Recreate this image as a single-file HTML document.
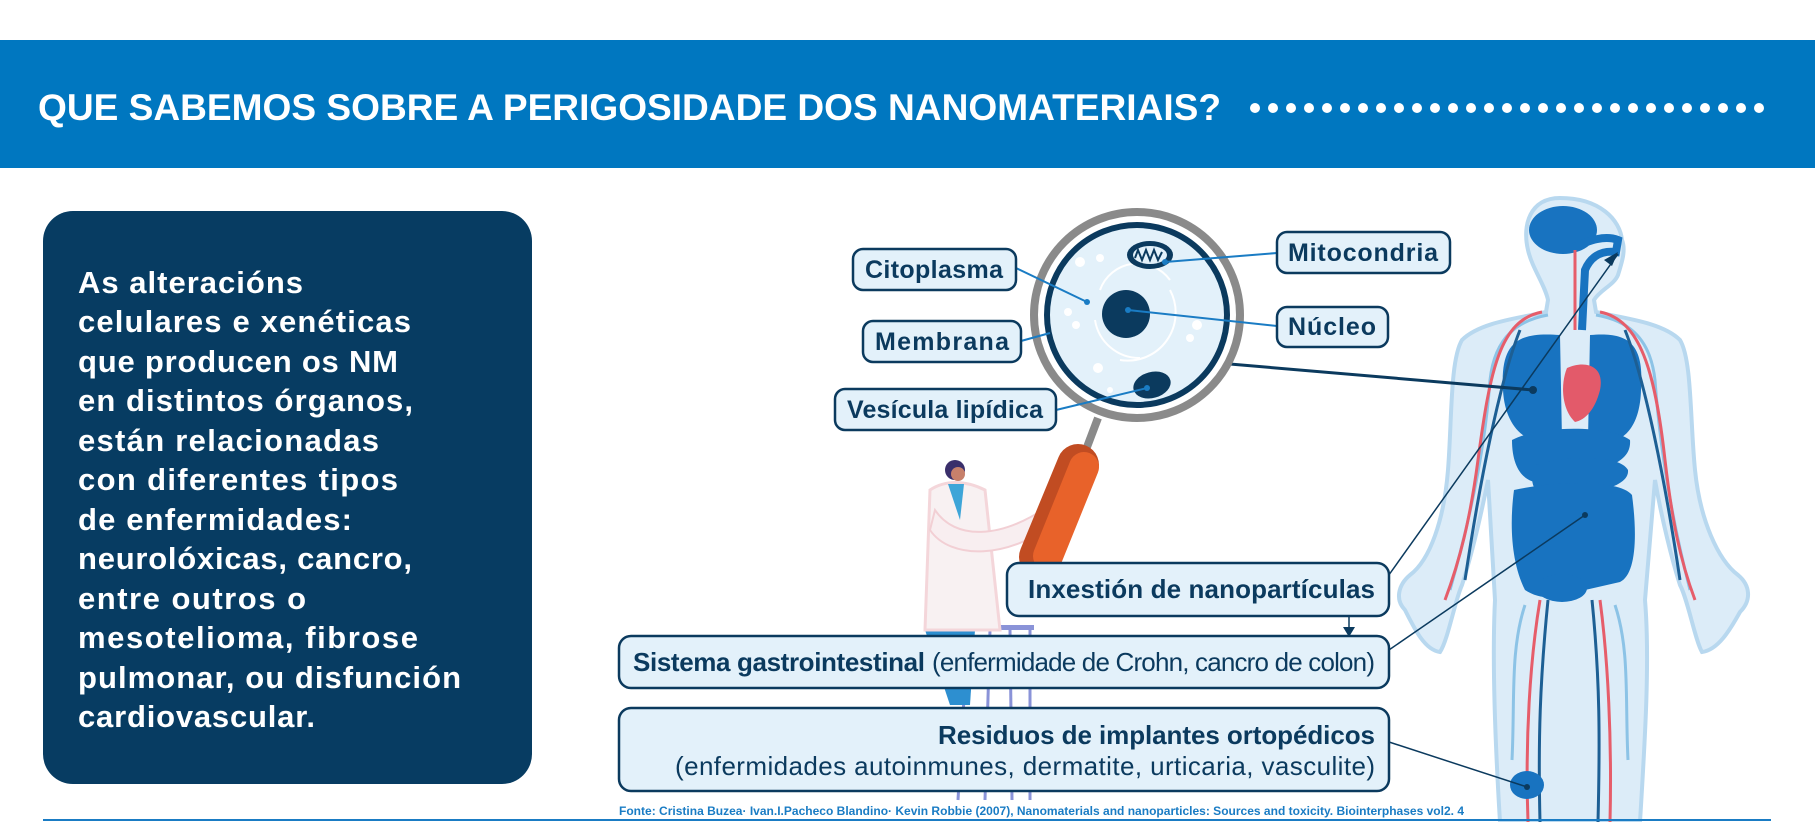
<!DOCTYPE html>
<html><head><meta charset="utf-8"><style>
html,body{margin:0;padding:0;background:#fff;}
svg{display:block;font-family:"Liberation Sans",sans-serif;}
</style></head><body>
<svg width="1815" height="822" viewBox="0 0 1815 822" xmlns="http://www.w3.org/2000/svg">
<rect x="0" y="40" width="1815" height="128" fill="#0077c0"/>
<text x="38" y="120" font-size="37" font-weight="bold" fill="#fff" textLength="1183" lengthAdjust="spacingAndGlyphs">QUE SABEMOS SOBRE A PERIGOSIDADE DOS NANOMATERIAIS?</text>
<g fill="#fff">
<circle cx="1255" cy="108" r="5"/><circle cx="1273" cy="108" r="5"/><circle cx="1291" cy="108" r="5"/><circle cx="1309" cy="108" r="5"/><circle cx="1327" cy="108" r="5"/><circle cx="1345" cy="108" r="5"/><circle cx="1363" cy="108" r="5"/><circle cx="1381" cy="108" r="5"/><circle cx="1399" cy="108" r="5"/><circle cx="1417" cy="108" r="5"/><circle cx="1435" cy="108" r="5"/><circle cx="1453" cy="108" r="5"/><circle cx="1471" cy="108" r="5"/><circle cx="1489" cy="108" r="5"/><circle cx="1507" cy="108" r="5"/><circle cx="1525" cy="108" r="5"/><circle cx="1543" cy="108" r="5"/><circle cx="1561" cy="108" r="5"/><circle cx="1579" cy="108" r="5"/><circle cx="1597" cy="108" r="5"/><circle cx="1615" cy="108" r="5"/><circle cx="1633" cy="108" r="5"/><circle cx="1651" cy="108" r="5"/><circle cx="1669" cy="108" r="5"/><circle cx="1687" cy="108" r="5"/><circle cx="1705" cy="108" r="5"/><circle cx="1723" cy="108" r="5"/><circle cx="1741" cy="108" r="5"/><circle cx="1759" cy="108" r="5"/>
</g>

<rect x="43" y="211" width="489" height="573" rx="30" fill="#073c62"/>
<g fill="#fff" font-size="31" font-weight="bold" lengthAdjust="spacingAndGlyphs">
<text x="78" y="293" textLength="225">As alteracións</text>
<text x="78" y="332" textLength="333">celulares e xenéticas</text>
<text x="78" y="372" textLength="320">que producen os NM</text>
<text x="78" y="411" textLength="335">en distintos órganos,</text>
<text x="78" y="451" textLength="301">están relacionadas</text>
<text x="78" y="490" textLength="320">con diferentes tipos</text>
<text x="78" y="530" textLength="274">de enfermidades:</text>
<text x="78" y="569" textLength="334">neurolóxicas, cancro,</text>
<text x="78" y="609" textLength="228">entre outros o</text>
<text x="78" y="648" textLength="340">mesotelioma, fibrose</text>
<text x="78" y="688" textLength="383">pulmonar, ou disfunción</text>
<text x="78" y="727" textLength="237">cardiovascular.</text>
</g>

<!-- body -->
<g>
<path d="M1560 198 C1530 198 1522 225 1528 250 C1532 268 1545 285 1548 300 L1546 312 C1520 318 1480 322 1462 340 C1450 360 1452 420 1448 470 C1444 520 1430 560 1410 575 C1398 585 1395 600 1405 610 C1415 630 1425 650 1440 652 C1448 640 1455 600 1462 585 C1470 560 1480 520 1488 480 L1495 600 C1492 660 1495 740 1500 822 L1640 822 C1645 740 1650 660 1645 600 L1655 480 C1662 520 1672 560 1680 585 C1688 600 1695 640 1702 652 C1718 650 1730 630 1740 612 C1752 600 1750 585 1738 575 C1718 560 1700 520 1695 470 C1690 420 1692 360 1680 340 C1662 322 1622 318 1596 312 L1594 300 C1600 290 1614 285 1618 275 C1622 262 1626 250 1622 240 C1620 220 1600 198 1560 198 Z" fill="#dcecf8" stroke="#b8d8ef" stroke-width="4"/>
<ellipse cx="1563" cy="230" rx="34" ry="24" fill="#1873c0"/>
<path d="M1572 248 C1590 240 1605 235 1618 240 L1616 252 C1600 250 1590 258 1585 270 L1582 330" fill="none" stroke="#1873c0" stroke-width="8"/>
<path d="M1503 390 C1500 340 1520 332 1560 335 L1562 440 C1530 450 1505 430 1503 390 Z" fill="#1873c0"/>
<path d="M1641 390 C1645 340 1625 332 1590 335 L1588 440 C1620 450 1640 430 1641 390 Z" fill="#1873c0"/>
<path d="M1567 368 C1585 360 1605 365 1600 390 C1595 410 1585 420 1575 422 C1562 410 1560 385 1567 368 Z" fill="#e35a6a"/>
<path d="M1512 440 C1540 425 1610 425 1630 440 C1632 465 1600 470 1560 478 C1535 490 1512 480 1512 440 Z" fill="#1873c0"/>
<path d="M1535 465 C1570 455 1620 455 1628 470 C1630 490 1580 495 1545 500 C1530 490 1530 475 1535 465 Z" fill="#1873c0"/>
<path d="M1514 490 C1560 480 1620 480 1632 495 C1638 540 1635 575 1620 582 L1585 590 C1560 600 1540 600 1525 590 C1510 560 1510 520 1514 490 Z" fill="#1873c0"/>
<ellipse cx="1562" cy="588" rx="25" ry="14" fill="#1873c0"/>
<g fill="none" stroke-width="3">
<path d="M1548 315 C1520 320 1495 335 1490 380 C1485 450 1470 520 1450 590" stroke="#8cc3e6"/>
<path d="M1596 315 C1625 320 1650 335 1655 380 C1660 450 1672 520 1690 590" stroke="#8cc3e6"/>
<path d="M1542 312 C1500 320 1490 370 1478 460 C1470 520 1460 560 1445 600" stroke="#e65d6a"/>
<path d="M1600 312 C1640 320 1655 370 1665 460 C1672 520 1680 560 1695 600" stroke="#e65d6a"/>
<path d="M1520 330 C1500 380 1480 480 1465 580" stroke="#1d5f94"/>
<path d="M1625 330 C1645 380 1665 480 1680 580" stroke="#1d5f94"/>
<path d="M1540 600 C1530 660 1525 740 1528 822" stroke="#e65d6a"/>
<path d="M1548 600 C1540 680 1538 740 1540 822" stroke="#1d5f94"/>
<path d="M1600 600 C1608 660 1612 740 1610 822" stroke="#e65d6a"/>
<path d="M1592 600 C1600 680 1600 740 1598 822" stroke="#1d5f94"/>
<path d="M1525 605 C1510 650 1515 700 1512 760" stroke="#8cc3e6"/>
<path d="M1615 605 C1630 650 1625 700 1628 760" stroke="#8cc3e6"/>
<path d="M1575 250 L1575 330" stroke="#e65d6a"/>
</g>
<ellipse cx="1527" cy="785" rx="17" ry="14" fill="#1873c0"/>
</g>

<!-- connectors -->
<g stroke="#0b3a5e" fill="none">
<line x1="1218" y1="363" x2="1533" y2="390" stroke-width="3"/>
<line x1="1386" y1="579" x2="1618" y2="254" stroke-width="1.5"/>
<line x1="1386" y1="652" x2="1585" y2="515" stroke-width="1.5"/>
<line x1="1386" y1="741" x2="1527" y2="787" stroke-width="1.5"/>
<line x1="1349" y1="607" x2="1349" y2="630" stroke-width="1.5"/>
</g>
<polygon points="1618,252 1604,260 1612,266" fill="#0b3a5e"/>
<polygon points="1343,627 1355,627 1349,637" fill="#0b3a5e"/>
<g fill="#0b3a5e"><circle cx="1533" cy="390" r="4"/><circle cx="1585" cy="515" r="3"/><circle cx="1527" cy="787" r="3"/><circle cx="1349" cy="607" r="2.5"/></g>

<!-- scientist -->
<rect x="962" y="625" width="72" height="5" fill="#8a93d8"/>
<g stroke="#8a93d8" stroke-width="3"><line x1="968" y1="630" x2="958" y2="800"/><line x1="990" y1="630" x2="985" y2="800"/><line x1="1010" y1="630" x2="1012" y2="800"/><line x1="1030" y1="630" x2="1030" y2="800"/></g>
<path d="M925 630 L975 630 L970 705 L950 705 Z" fill="#2d8fd0"/>
<path d="M930 490 C945 480 965 480 985 490 L1000 630 L925 630 Z" fill="#f8f1f2" stroke="#f4d6da" stroke-width="3"/>
<path d="M948 484 L964 484 L960 520 Z" fill="#3ea5d8"/>
<path d="M935 510 C955 540 1000 540 1050 505 L1058 520 C1010 560 950 560 930 530 Z" fill="#f8eef0" stroke="#f2cfd4" stroke-width="2"/>
<circle cx="955" cy="470" r="10" fill="#3a2f6b"/><circle cx="958" cy="474" r="7" fill="#c7806b"/>
<!-- magnifier handle -->
<line x1="1098" y1="418" x2="1084" y2="455" stroke="#8a8a8a" stroke-width="8"/>
<line x1="1078" y1="465" x2="1040" y2="557" stroke="#c14c22" stroke-width="42" stroke-linecap="round"/>
<line x1="1084" y1="467" x2="1048" y2="556" stroke="#e8622a" stroke-width="30" stroke-linecap="round"/>
<!-- magnifier -->
<circle cx="1137" cy="315" r="103" fill="#fff" stroke="#8a8a8a" stroke-width="8"/>
<circle cx="1137" cy="315" r="90" fill="#e3f1fa" stroke="#0b3a5e" stroke-width="6"/>
<g fill="none" stroke="#fff" stroke-width="2"><path d="M1100 290 A40 40 0 0 1 1170 280"/><path d="M1170 290 A48 48 0 0 1 1120 360"/><path d="M1095 320 A45 45 0 0 0 1140 358"/></g>
<g fill="#fff"><circle cx="1080" cy="262" r="5"/><circle cx="1100" cy="258" r="4"/><circle cx="1068" cy="312" r="4"/><circle cx="1076" cy="325" r="4"/><circle cx="1197" cy="325" r="5"/><circle cx="1190" cy="338" r="4"/><circle cx="1098" cy="368" r="5"/><circle cx="1110" cy="390" r="3"/></g>
<circle cx="1126" cy="314" r="24" fill="#0b3a5e"/>
<ellipse cx="1150" cy="255" rx="23" ry="14" fill="#0b3a5e"/>
<ellipse cx="1150" cy="255" rx="17" ry="9" fill="#e3f1fa"/>
<path d="M1135 258 L1138 250 L1142 260 L1146 250 L1150 260 L1154 250 L1158 260 L1162 252" fill="none" stroke="#0b3a5e" stroke-width="2"/>
<ellipse cx="1152" cy="385" rx="19" ry="13" fill="#0b3a5e" transform="rotate(-15 1152 385)"/>
<g stroke="#1a7cc4" stroke-width="2" fill="none">
<line x1="1016" y1="268" x2="1087" y2="302"/><line x1="1021" y1="341" x2="1050" y2="333"/><line x1="1056" y1="410" x2="1147" y2="388"/><line x1="1277" y1="253" x2="1165" y2="262"/><line x1="1277" y1="326" x2="1128" y2="310"/>
</g>
<g fill="#1a7cc4"><circle cx="1087" cy="302" r="3"/><circle cx="1147" cy="388" r="3"/><circle cx="1128" cy="310" r="3"/><circle cx="1165" cy="262" r="3"/></g>

<!-- labels -->
<g fill="#e3f1fa" stroke="#0b3a5e" stroke-width="2.5">
<rect x="853" y="249" width="163" height="41" rx="10"/>
<rect x="863" y="321" width="158" height="41" rx="10"/>
<rect x="835" y="389" width="221" height="41" rx="10"/>
<rect x="1277" y="232" width="173" height="41" rx="10"/>
<rect x="1277" y="307" width="111" height="40" rx="10"/>
<rect x="1007" y="563" width="382" height="53" rx="12"/>
<rect x="619" y="636" width="770" height="52" rx="12"/>
<rect x="619" y="708" width="770" height="83" rx="12"/>
</g>
<g fill="#0b3a5e" font-size="25" font-weight="bold" text-anchor="middle" lengthAdjust="spacingAndGlyphs">
<text x="934" y="278" textLength="138">Citoplasma</text>
<text x="942" y="350" textLength="134">Membrana</text>
<text x="945" y="418" textLength="196">Vesícula lipídica</text>
<text x="1363" y="261" textLength="150">Mitocondria</text>
<text x="1332" y="335" textLength="88">Núcleo</text>
</g>
<g fill="#0b3a5e" font-size="26" lengthAdjust="spacingAndGlyphs">
<text x="1028" y="598" font-weight="bold" textLength="347">Inxestión de nanopartículas</text>
<text x="633" y="671" font-weight="bold" textLength="292">Sistema gastrointestinal</text>
<text x="932" y="671" textLength="443">(enfermidade de Crohn, cancro de colon)</text>
<text x="938" y="744" font-weight="bold" textLength="437">Residuos de implantes ortopédicos</text>
<text x="675" y="775" textLength="700">(enfermidades autoinmunes, dermatite, urticaria, vasculite)</text>
</g>
<text x="619" y="815" font-size="12" font-weight="bold" fill="#1a7cc4" textLength="845" lengthAdjust="spacingAndGlyphs">Fonte: Cristina Buzea· Ivan.I.Pacheco Blandino· Kevin Robbie (2007), Nanomaterials and nanoparticles: Sources and toxicity. Biointerphases vol2. 4</text>
<rect x="43" y="819" width="1728" height="2" fill="#1a7cc4"/>
</svg>
</body></html>
